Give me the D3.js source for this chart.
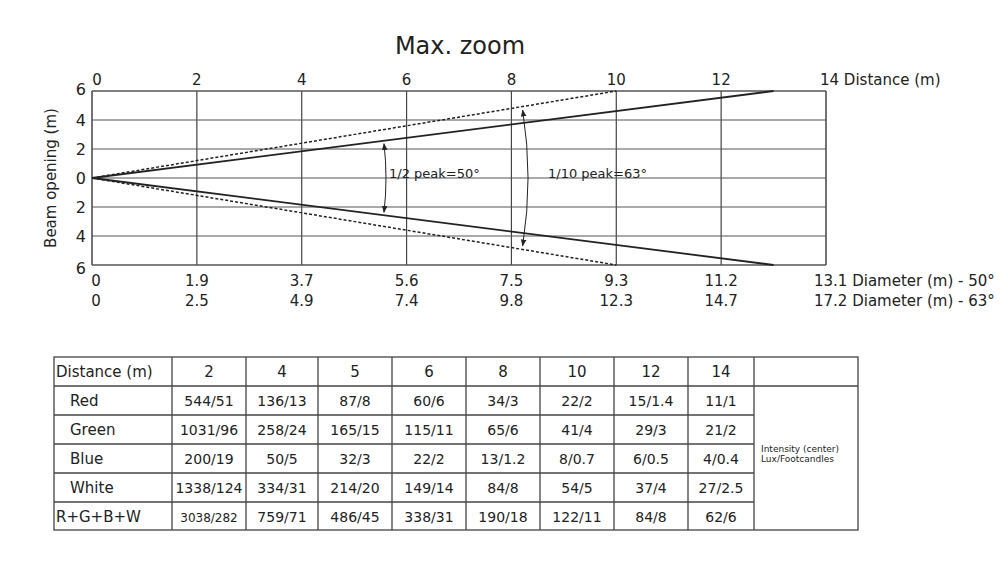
<!DOCTYPE html><html><head><meta charset="utf-8"><script src="https://cdn.jsdelivr.net/npm/d3@7"></script>
<style>body{margin:0;background:#fff}text{font-family:"DejaVu Sans",Verdana,sans-serif;fill:#222}</style></head><body>
<svg id="c" width="1000" height="569"></svg>
<script>
const distTicks=[0,2,4,6,8,10,12,14];
const beamTicks=[-6,-4,-2,0,2,4,6];
const diam50=["0","1.9","3.7","5.6","7.5","9.3","11.2","13.1"];
const diam63=["0","2.5","4.9","7.4","9.8","12.3","14.7","17.2"];
const beam50=[[0,0],[13,6]], beam50b=[[0,0],[13,-6]];
const beam63=[[0,0],[10,6]], beam63b=[[0,0],[10,-6]];
const tableHeader=["Distance (m)","2","4","5","6","8","10","12","14",""];
const rowNames=["Red","Green","Blue","White","R+G+B+W"];
const red=["544/51","136/13","87/8","60/6","34/3","22/2","15/1.4","11/1"];
const green=["1031/96","258/24","165/15","115/11","65/6","41/4","29/3","21/2"];
const blue=["200/19","50/5","32/3","22/2","13/1.2","8/0.7","6/0.5","4/0.4"];
const white=["1338/124","334/31","214/20","149/14","84/8","54/5","37/4","27/2.5"];
const rgbw=["3038/282","759/71","486/45","338/31","190/18","122/11","84/8","62/6"];
const rows=[red,green,blue,white,rgbw];

const svg=d3.select("#c");
const x=d3.scaleLinear().domain([0,14]).range([92,826]);
const y=d3.scaleLinear().domain([-6,6]).range([265,91]);
svg.append("text").attr("x",460).attr("y",54).attr("text-anchor","middle").attr("font-size",24).text("Max. zoom");
const g=svg.append("g");
g.selectAll(".v").data(distTicks).join("line").attr("x1",d=>x(d)).attr("x2",d=>x(d)).attr("y1",y(6)).attr("y2",y(-6)).attr("stroke","#444").attr("stroke-width",d=>(d==0||d==14)?1.5:1.2);
g.selectAll(".h").data(beamTicks).join("line").attr("x1",x(0)).attr("x2",x(14)).attr("y1",d=>y(d)).attr("y2",d=>y(d)).attr("stroke","#555").attr("stroke-width",d=>Math.abs(d)==6?1.5:1);
g.selectAll(".tt").data(distTicks).join("text").attr("x",d=>x(d)+(d==0?5:0)).attr("y",85).attr("text-anchor",d=>d==14?"start":"middle").attr("font-size",15).text(d=>d==14?"14  Distance (m)":d).attr("dx",d=>d==14?-6:0);
g.selectAll(".yl").data(beamTicks).join("text").attr("x",86).attr("y",d=>y(d)+(d==6?4:d==-6?9:6)).attr("text-anchor","end").attr("font-size",16).text(d=>Math.abs(d));
svg.append("text").attr("transform","translate(56,178) rotate(-90)").attr("text-anchor","middle").attr("font-size",15).text("Beam opening (m)");
g.selectAll(".d1").data(diam50).join("text").attr("x",(d,i)=>x(distTicks[i])+(i==0?4:0)).attr("y",286).attr("text-anchor",(d,i)=>i==7?"start":"middle").attr("font-size",15).text((d,i)=>i==7?d+" Diameter (m) - 50°":d).attr("dx",(d,i)=>i==7?-12:0);
g.selectAll(".d2").data(diam63).join("text").attr("x",(d,i)=>x(distTicks[i])+(i==0?4:0)).attr("y",306).attr("text-anchor",(d,i)=>i==7?"start":"middle").attr("font-size",15).text((d,i)=>i==7?d+" Diameter (m) - 63°":d).attr("dx",(d,i)=>i==7?-12:0);
const line=d3.line().x(d=>x(d[0])).y(d=>y(d[1]));
[beam50,beam50b].forEach(b=>g.append("path").attr("d",line(b)).attr("stroke","#222").attr("stroke-width",1.8).attr("fill","none"));
[beam63,beam63b].forEach(b=>g.append("path").attr("d",line(b)).attr("stroke","#222").attr("stroke-width",1.5).attr("stroke-dasharray","3,2").attr("fill","none"));
svg.append("defs").append("marker").attr("id","ah").attr("viewBox","0 0 10 10").attr("refX",9).attr("refY",5).attr("markerWidth",7).attr("markerHeight",7).attr("orient","auto-start-reverse").append("path").attr("d","M0,1L10,5L0,9z").attr("fill","#222");
function arcPath(r,a){const cx=x(0),cy=y(0);const p1=[cx+r*Math.cos(a),cy-r*Math.sin(a)],p2=[cx+r*Math.cos(a),cy+r*Math.sin(a)];return `M${p1}A${r},${r} 0 0 1 ${p2}`;}
const a50=Math.atan2(y(0)-y(6),x(13)-x(0))*0.92, a63=Math.atan2(y(0)-y(6),x(10)-x(0))*0.95;
g.append("path").attr("d",arcPath(294,a50)).attr("fill","none").attr("stroke","#222").attr("marker-start","url(#ah)").attr("marker-end","url(#ah)");
g.append("path").attr("d",arcPath(436,a63)).attr("fill","none").attr("stroke","#222").attr("marker-start","url(#ah)").attr("marker-end","url(#ah)");
g.append("text").attr("x",389).attr("y",178).attr("font-size",13).text("1/2 peak=50°");
g.append("text").attr("x",548).attr("y",178).attr("font-size",13).text("1/10 peak=63°");
const colX=[54,172,246,318,392,466,540,614,688,754,858];
const rowY=[357,386,415,444,473,502,530];
const t=svg.append("g").attr("stroke","#444").attr("stroke-width",1.3);
t.append("rect").attr("x",colX[0]).attr("y",rowY[0]).attr("width",colX[10]-colX[0]).attr("height",rowY[6]-rowY[0]).attr("fill","none");
colX.slice(1,10).forEach(cx=>t.append("line").attr("x1",cx).attr("x2",cx).attr("y1",rowY[0]).attr("y2",rowY[6]));
rowY.slice(1,6).forEach((ry,i)=>t.append("line").attr("x1",colX[0]).attr("x2",i==0?colX[10]:colX[9]).attr("y1",ry).attr("y2",ry));
svg.selectAll(".th").data(tableHeader).join("text").attr("x",(d,i)=>i==0?colX[0]+2:(colX[i]+colX[i+1])/2).attr("y",rowY[0]+20).attr("text-anchor",(d,i)=>i==0?"start":"middle").attr("font-size",15).text(d=>d);
svg.selectAll(".rn").data(rowNames).join("text").attr("x",(d,i)=>i==4?colX[0]+2:colX[0]+16).attr("y",(d,i)=>rowY[i+1]+20).attr("font-size",15).text(d=>d);
rows.forEach((r,ri)=>svg.selectAll(".r"+ri).data(r).join("text").attr("x",(d,i)=>(colX[i+1]+colX[i+2])/2).attr("y",rowY[ri+1]+20).attr("text-anchor","middle").text(d=>d).attr("font-size",(d,i)=>ri==4&&i==0?12:14));
svg.append("text").attr("x",colX[9]+7).attr("y",452).attr("font-size",9).text("Intensity (center)");
svg.append("text").attr("x",colX[9]+7).attr("y",462).attr("font-size",9).text("Lux/Footcandles");
</script></body></html>
